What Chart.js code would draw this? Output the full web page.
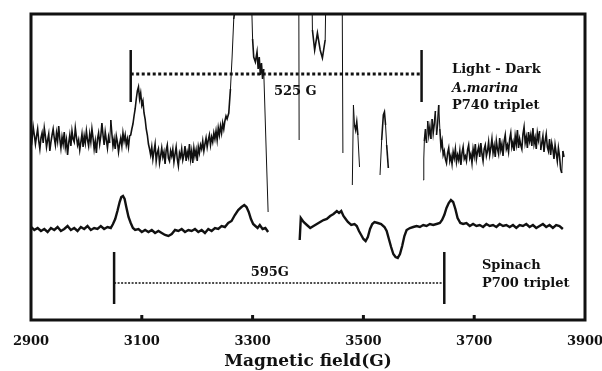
<!DOCTYPE html>
<html>
<head>
<meta charset="utf-8">
<script src="https://cdn.jsdelivr.net/npm/chart.js@4.4.1/dist/chart.umd.min.js"></script>
<style>
  html, body { margin: 0; padding: 0; background: #fff; }
  #wrap { width: 602px; height: 371px; }
</style>
</head>
<body>
<div id="wrap"><canvas id="eprChart" width="602" height="371"></canvas></div>
<script>
// field axis (G)
const fieldMin = 2900;
const fieldMax = 3900;
const fieldStep = 200;

// A.marina light-dark trace (signal in arbitrary units, null = gap)
const upperField = [
  2900,2902,2904,2906,2908,2910,2912,2914,2916,2918,
  2920,2922,2924,2926,2928,2930,2932,2934,2936,2938,
  2940,2942,2944,2946,2948,2950,2952,2954,2956,2958,
  2960,2962,2964,2966,2968,2970,2972,2974,2976,2978,
  2980,2982,2984,2986,2988,2990,2992,2994,2996,2998,
  3000,3002,3004,3006,3008,3010,3012,3014,3016,3018,
  3020,3022,3024,3026,3028,3030,3032,3034,3036,3038,
  3040,3042,3044,3046,3048,3050,3052,3054,3056,3058,
  3060,3062,3064,3066,3068,3070,3072,3074,3076,3078,
  3080,3082,3084,3086,3088,3090,3092,3094,3096,3098,3100,3102,3104,3106,3108,3110,3112,3114,
  3116,3118,3120,3122,3124,3126,3128,3130,3132,3134,
  3136,3138,3140,3142,3144,3146,3148,3150,3152,3154,
  3156,3158,3160,3162,3164,3166,3168,3170,3172,3174,
  3176,3178,3180,3182,3184,3186,3188,3190,3192,3194,
  3196,3198,3200,3202,3204,3206,
  3208,3210,3212,3214,3216,3218,3220,3222,3224,3226,
  3228,3230,3232,3234,3236,3238,3240,3242,3244,3246,
  3248,3250,3252,3254,
  3257,3260,3263,3266,3272,3285,3298,3300,3302,
  3305,3308,3310,3312,3314,3316,3318,3320,3322,3325,3328,3340,
  3383,3384,3390,
  3405,3408,3412,3417,3422,3426,3431,3435,3440,
  3461,3463,3470,
  3480,3482,3484,3486,3488,3490,3493,3500,
  3530,3533,3536,3538,3540,3542,3545,3560,
  3608,3609,3610,3612,3614,3616,3618,3620,3622,3624,3626,3628,3630,3632,3634,3636,3638,3640,3642,3644,
  3646,3648,3650,3652,3654,3656,3658,3660,3662,3664,
  3666,3668,3670,3672,3674,3676,3678,3680,3682,3684,
  3686,3688,3690,3692,3694,3696,3698,3700,3702,3704,
  3706,3708,3710,3712,3714,3716,3718,3720,3722,3724,
  3726,3728,3730,3732,3734,3736,3738,3740,3742,3744,
  3746,3748,3750,3752,3754,3756,3758,3760,3762,3764,
  3766,3768,3770,3772,3774,3776,3778,3780,3782,3784,
  3786,3788,3790,3792,3794,3796,3798,3800,3802,3804,
  3806,3808,3810,3812,3814,3816,3818,3820,3822,3824,
  3826,3828,3830,3832,3834,3836,3838,3840,3842,3844,
  3846,3848,3850,3852,3854,3856,3858,3860,3862
];
const upperSignal = [
  188,180,192,184,175,183,190,178,170,181,
  186,176,191,183,172,179,185,168,177,184,
  190,181,174,186,178,193,180,171,182,175,
  187,172,179,164,176,184,173,188,180,177,
  191,182,174,179,169,177,185,172,183,176,
  188,179,173,185,177,190,181,170,178,166,
  180,186,175,183,196,184,174,187,179,171,
  182,176,199,185,173,180,170,183,177,167,
  175,181,173,186,178,184,174,180,172,183,
  184,190,195,203,210,220,228,232,220,226,214,218,206,200,190,184,175,170,
  164,172,160,168,175,158,166,170,156,163,
  171,162,167,155,169,174,161,158,168,163,
  170,157,165,172,160,153,166,162,170,159,
  164,173,158,167,162,175,160,168,156,171,
  163,169,158,172,166,174,
  170,178,168,175,181,172,179,184,174,182,
  177,186,180,188,179,191,184,193,186,196,
  190,198,203,200,
  206,230,262,300,330,420,320,280,262,
  257,267,250,262,244,256,240,250,214,160,107,null,
  420,179,null,
  420,289,269,286,269,261,279,420,null,
  420,166,null,
  134,214,194,189,197,184,152,null,
  144,179,204,207,194,174,151,null,
  139,160,178,190,176,198,184,192,180,200,186,195,208,184,196,214,190,172,178,164,
  168,160,156,166,171,158,163,155,167,161,
  170,157,164,159,168,154,166,172,160,163,
  158,169,174,161,165,156,170,163,175,160,
  167,172,162,176,165,158,170,174,163,168,
  177,164,171,180,166,173,162,178,170,165,
  181,169,175,163,178,184,170,174,167,180,
  186,172,177,168,183,175,189,171,180,174,
  170,185,192,176,182,171,187,178,184,173,
  191,175,181,170,186,179,188,169,176,183,
  167,178,185,172,168,180,164,176,170,160,
  174,166,158,171,163,150,146,168,162
];

// Spinach P700 triplet trace
const lowerField = [
  2900,2906,2912,2918,2924,2930,2936,2942,2948,2954,2960,2966,2972,2978,2984,2990,2996,3002,3008,3014,3020,3026,3032,3038,3044,
  3048,3052,3056,3060,3063,3066,3069,3072,3076,3080,3084,3088,
  3094,3100,3106,3112,3118,3124,3130,3136,3142,3148,3154,3160,3166,3172,3178,3184,3190,3196,3202,3208,3214,3220,3226,3232,3238,3244,
  3250,3256,3262,3268,3274,3280,3285,3289,3293,3297,3301,3305,3309,3313,3318,3323,3328,3340,
  3385,3387,3392,3398,3404,3410,3416,3422,3428,3434,3440,3446,3452,3456,3460,3464,3468,3472,3478,3484,3488,3492,3496,3500,3504,3508,3512,3516,3520,3526,3532,3538,3542,3546,3550,3554,3558,3562,3566,3570,3574,3578,3584,3590,3596,3602,3608,3614,3620,3626,3632,3638,3642,3646,3650,3654,3658,3662,3666,3670,3675,3680,
  3686,3692,3698,3704,3710,3716,3722,3728,3734,3740,3746,3752,3758,3764,3770,3776,3782,3788,3794,3800,3806,3812,3818,3824,3830,3836,3842,3848,3854,3860
];
const lowerSignal = [
  92,89,91,88,90,87,91,89,92,88,90,93,89,91,88,92,90,93,89,91,90,93,90,92,91,
  95,100,108,117,122,123,120,112,102,96,91,89,
  90,87,89,87,89,86,88,86,84,83,85,89,88,90,87,89,88,90,87,89,86,90,88,91,90,93,
  92,96,98,104,109,112,114,112,107,100,95,93,91,94,90,91,87,null,
  79,101,97,94,91,93,95,97,99,100,103,105,108,106,108,103,100,97,94,95,93,88,84,80,78,82,90,95,97,96,95,92,88,80,72,65,62,61,65,73,83,89,91,92,93,92,94,93,95,94,95,96,99,104,111,116,119,117,110,101,96,95,
  96,93,95,93,94,92,95,93,94,92,95,93,94,92,94,91,94,93,95,92,94,91,93,95,92,94,91,94,93,90
];

// splitting markers (G)
const split525Field = [3080, 3605];
const split525Level = 245;
const split525Ends = [217, 269];
const split595Field = [3050, 3646];
const split595Level = 36;
const split595Ends = [15, 67];

function toPoints(fields, values) {
  return fields.map((f, i) => ({ x: f, y: values[i] }));
}
function hLine(fields, level) {
  return fields.map(f => ({ x: f, y: level }));
}
function vLine(field, ends) {
  return ends.map(v => ({ x: field, y: v }));
}

const serif = "'DejaVu Serif', 'Liberation Serif', serif";

const framePlugin = {
  id: "frame",
  afterDatasetsDraw(chart) {
    const ctx = chart.ctx;
    const a = chart.chartArea;
    const xs = chart.scales.x;
    const ys = chart.scales.y;
    ctx.save();
    ctx.strokeStyle = "#111";
    ctx.lineWidth = 3;
    ctx.strokeRect(a.left, a.top, a.right - a.left, a.bottom - a.top);
    // short inward ticks
    xs.ticks.forEach(t => {
      if (t.value <= fieldMin || t.value >= fieldMax) return;
      const px = xs.getPixelForValue(t.value);
      ctx.beginPath();
      ctx.moveTo(px, a.bottom);
      ctx.lineTo(px, a.bottom - 5);
      ctx.stroke();
    });
    // notes
    ctx.fillStyle = "#111";
    ctx.textBaseline = "alphabetic";
    const put = (text, f, v, align, style) => {
      ctx.font = style;
      ctx.textAlign = align;
      ctx.fillText(text, xs.getPixelForValue(f), ys.getPixelForValue(v));
    };
    const bold = "bold 13px " + serif;
    put("525 G", 3377, 224, "center", bold);
    put("595G", 3331, 43, "center", bold);
    put("Light - Dark", 3660, 246, "left", bold);
    put("A.marina", 3660, 227, "left", "italic bold 13px " + serif);
    put("P740 triplet", 3660, 210, "left", bold);
    put("Spinach", 3714, 50, "left", bold);
    put("P700 triplet", 3714, 32, "left", bold);
    ctx.restore();
  }
};

const traceStyle = { pointRadius: 0, tension: 0, spanGaps: false, borderColor: "#111", fill: false };

// steep off-scale strokes are thin in the scan, the noisy band is heavy
const upperSegment = {
  borderWidth: c => {
    const dy = Math.abs(c.p1.parsed.y - c.p0.parsed.y);
    const dx = Math.abs(c.p1.parsed.x - c.p0.parsed.x) || 1;
    return dy / dx > 9 ? 1 : 1.6;
  }
};

new Chart(document.getElementById("eprChart"), {
  type: "line",
  data: {
    datasets: [
      Object.assign({ label: "A.marina", data: toPoints(upperField, upperSignal), borderWidth: 1.6, segment: upperSegment }, traceStyle),
      Object.assign({ label: "Spinach", data: toPoints(lowerField, lowerSignal), borderWidth: 2.4 }, traceStyle),
      Object.assign({ label: "525", data: hLine(split525Field, split525Level), borderWidth: 3, borderDash: [3, 2.5] }, traceStyle),
      Object.assign({ label: "525a", data: vLine(split525Field[0], split525Ends), borderWidth: 2.5 }, traceStyle),
      Object.assign({ label: "525b", data: vLine(split525Field[1], split525Ends), borderWidth: 2.5 }, traceStyle),
      Object.assign({ label: "595", data: hLine(split595Field, split595Level), borderWidth: 1.6, borderDash: [2, 1.5] }, traceStyle),
      Object.assign({ label: "595a", data: vLine(split595Field[0], split595Ends), borderWidth: 2.5 }, traceStyle),
      Object.assign({ label: "595b", data: vLine(split595Field[1], split595Ends), borderWidth: 2.5 }, traceStyle)
    ]
  },
  options: {
    responsive: false,
    animation: false,
    devicePixelRatio: 1,
    layout: { padding: { left: 31, right: 17, top: 14, bottom: 0 } },
    plugins: { legend: { display: false }, tooltip: { enabled: false } },
    scales: {
      x: {
        type: "linear",
        min: fieldMin,
        max: fieldMax,
        grid: { display: false },
        border: { display: false },
        ticks: {
          stepSize: fieldStep,
          autoSkip: false,
          maxRotation: 0,
          padding: 6,
          color: "#111",
          font: { family: serif, size: 13, weight: "bold" },
          callback: v => String(v)
        },
        title: {
          display: true,
          text: "Magnetic field(G)",
          color: "#111",
          padding: { top: 0, bottom: 1 },
          font: { family: serif, size: 17, weight: "bold", lineHeight: 1 }
        },
        afterFit(scale) {
          scale.height = 51;
          scale.paddingLeft = 0;
          scale.paddingRight = 0;
        }
      },
      y: { display: false, min: -1, max: 305 }
    }
  },
  plugins: [framePlugin]
});
</script>
</body>
</html>
